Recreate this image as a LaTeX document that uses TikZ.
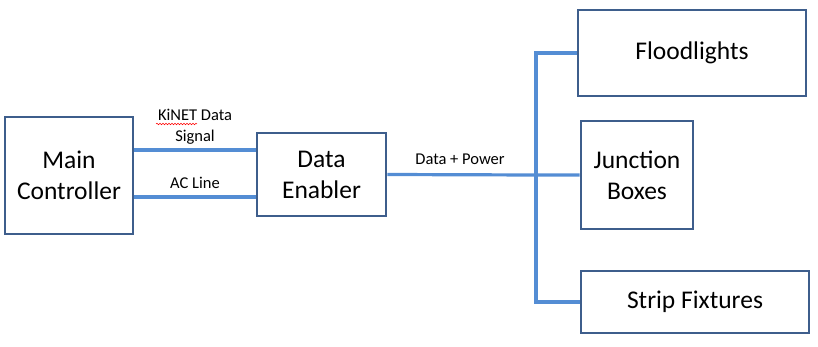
\documentclass[tikz,border=0pt]{standalone}
\usepackage{fontspec}
\setmainfont{Carlito}
\usetikzlibrary{positioning, calc, decorations.pathmorphing}
\definecolor{boxline}{RGB}{62,94,140}
\definecolor{wire}{RGB}{84,141,212}

\begin{document}
\begin{tikzpicture}[x=1pt, y=-1pt,
  unit/.style={draw=boxline, line width=2.6pt, align=center, inner sep=0pt,
    font=\fontsize{25.5}{31}\selectfont},
  link/.style={wire, line width=3.2pt},
  tag/.style={font=\fontsize{16.5}{21}\selectfont, align=center, inner sep=0pt}]
  \useasboundingbox (0,0) rectangle (818,347);
  % boxes
  \node[unit, minimum width=128pt, minimum height=117pt] (mainctrl) at (69,175.5) {Main\\Controller};
  \node[unit, minimum width=129pt, minimum height=83pt] (enabler) at (321.5,174.5) {Data\\Enabler};
  \node[unit, minimum width=228pt, minimum height=86pt] (flood) at (692,53) {Floodlights};
  \node[unit, minimum width=112pt, minimum height=108pt] (junction) at (637,175) {Junction\\Boxes};
  \node[unit, minimum width=228pt, minimum height=62pt] (strip) at (695,302) {Strip Fixtures};
  \coordinate (hub) at (536,175);
  % lines between controller and enabler
  \draw[link] ([yshift=25.5pt]mainctrl.east) -- ([yshift=25.5pt]mainctrl.east -| enabler.west);
  \draw[link] ([yshift=-21.5pt]mainctrl.east) -- ([yshift=-21.5pt]mainctrl.east -| enabler.west);
  \node[tag] (kinet) at (195,127) {KiNET Data\\Signal};
  \node[tag] (acline) at (195,183) {AC Line};
  % spell check mark
  \draw[red, line width=0.5pt, decorate, decoration={snake, amplitude=0.8pt, segment length=3pt}]
    (156,124) -- (197,124);
  % distribution
  \draw[link] (enabler.east) -- (hub) -- (junction.west);
  \draw[link] (flood.west) -- (hub |- flood.west) -- (hub |- strip.west) -- (strip.west);
  \node[tag] (datapower) at (460,159) {Data + Power};
\end{tikzpicture}
\end{document}
